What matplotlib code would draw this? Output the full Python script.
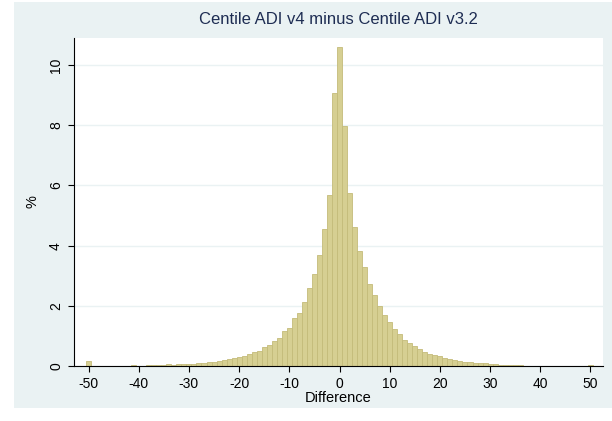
import numpy as np
import matplotlib
matplotlib.use("Agg")
import matplotlib.pyplot as plt
from matplotlib.patches import Rectangle

plt.rcParams['font.family'] = ['Liberation Sans', 'DejaVu Sans']
plt.rcParams['axes.unicode_minus'] = False

# difference values (bin centres) and percent per bin
diff = list(range(-50, 51))
pct_left = [0.18, 0.01, 0.01, 0.01, 0.01, 0.01, 0.01, 0.01, 0.01, 0.04,   # -50..-41
            0.02, 0.02, 0.04, 0.04, 0.04, 0.04, 0.09, 0.04, 0.07, 0.07,   # -40..-31
            0.07, 0.07, 0.10, 0.10, 0.13, 0.15, 0.18, 0.21, 0.24, 0.28,   # -30..-21
            0.31, 0.36, 0.42, 0.48, 0.52, 0.63, 0.71, 0.83, 0.93, 1.16,   # -20..-11
            1.27, 1.60, 1.77, 2.12, 2.59, 3.05, 3.68, 4.55, 5.70, 9.08]   # -10..-1
pct_zero = [10.58]
pct_right = [7.98, 5.74, 4.61, 3.84, 3.28, 2.72, 2.36, 1.99, 1.69, 1.46,  # 1..10
             1.23, 1.06, 0.86, 0.78, 0.66, 0.57, 0.47, 0.41, 0.37, 0.33,  # 11..20
             0.27, 0.23, 0.20, 0.17, 0.16, 0.14, 0.12, 0.10, 0.10, 0.08,  # 21..30
             0.07, 0.04, 0.04, 0.04, 0.04, 0.04, 0.015, 0.015, 0.015, 0.015,  # 31..40
             0.015, 0.015, 0.015, 0.015, 0.015, 0.015, 0.015, 0.015, 0.015, 0.06]  # 41..50
pct = pct_left + pct_zero + pct_right

xticks = list(range(-50, 51, 10))
yticks = [0, 2, 4, 6, 8, 10]

fig = plt.figure(figsize=(6.12, 4.21), dpi=100)
fig.patch.set_facecolor("white")
fig.patches.append(Rectangle((14 / 612, 13 / 421), 598 / 612, 406 / 421,
                             transform=fig.transFigure, facecolor="#eaf2f3",
                             edgecolor="none", zorder=-10))

ax = fig.add_axes([73.5 / 612, (421 - 366.4) / 421, (603 - 73.5) / 612, (366.4 - 37.7) / 421])
ax.set_zorder(1)
ax.set_facecolor("white")
ax.bar(diff, pct, width=1.0, color="#d6cf92", edgecolor="#c4bb7a", linewidth=0.6, zorder=2)

ax.set_xlim(-53, 52.5)
ax.set_ylim(0, 10.9)
ax.set_xticks(xticks)
ax.set_yticks(yticks)
ax.set_yticklabels([str(t) for t in yticks], rotation=90, va="center")
ax.tick_params(axis="both", labelsize=10, length=4, width=0.8, color="black", labelcolor="black")
ax.yaxis.grid(True, color="#eaf2f3", linewidth=1.0, zorder=1)
ax.set_axisbelow(True)
for side in ["top", "right"]:
    ax.spines[side].set_visible(False)
for side in ["left", "bottom"]:
    ax.spines[side].set_linewidth(0.8)

ax.set_xlabel("Difference", fontsize=10.5, labelpad=0)
ax.set_ylabel("%", fontsize=10.5, labelpad=7)
ax.set_title("Centile ADI v4 minus Centile ADI v3.2", fontsize=12, color="#1e2d53", pad=10)

fig.savefig("out.png", dpi=100)
